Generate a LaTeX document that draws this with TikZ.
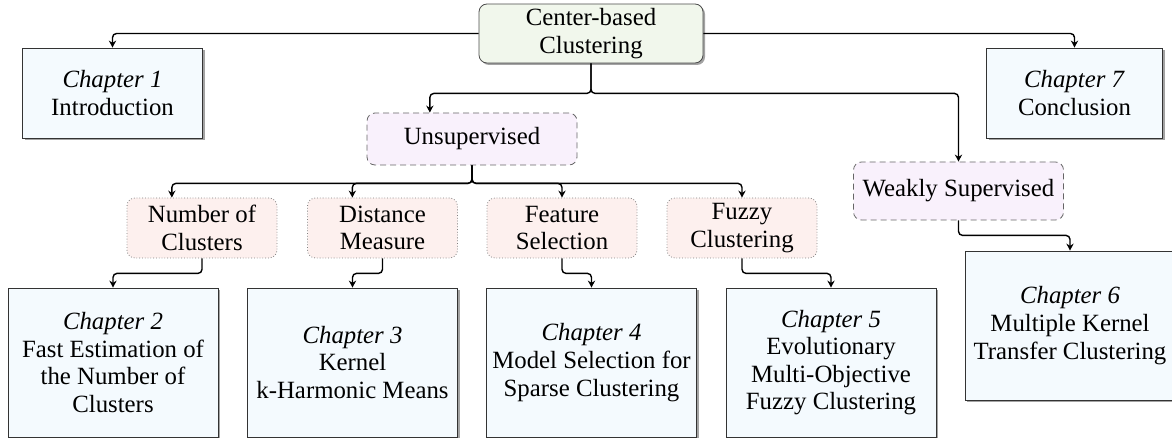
\documentclass[tikz,border=0pt]{standalone}
\usepackage{fontspec}
\setmainfont{Liberation Serif}
\usetikzlibrary{arrows.meta,calc,shadows}
\definecolor{rootfill}{HTML}{F1F7EC}
\definecolor{chapfill}{HTML}{F4FAFE}
\definecolor{groupfill}{HTML}{F9F1FC}
\definecolor{topicfill}{HTML}{FDF0EE}
\tikzset{
  shade/.style={drop shadow={shadow xshift=1pt, shadow yshift=-1pt, fill=black!45, opacity=0.8}},
  rootbox/.style={rectangle, rounded corners=4pt, draw=black!70, fill=rootfill, align=center,
                  minimum width=112pt, minimum height=29.5pt, inner sep=2pt, shade},
  chap/.style={rectangle, draw=black!80, fill=chapfill, align=center,
               minimum width=105pt, minimum height=74.5pt, inner sep=2pt, shade},
  group/.style={rectangle, rounded corners=4pt, draw=black!60, densely dashed, fill=groupfill,
                align=center, minimum width=105pt, minimum height=26pt, inner sep=2pt},
  topic/.style={rectangle, rounded corners=4pt, draw=black!50, densely dotted, fill=topicfill,
                align=center, minimum width=75pt, minimum height=30pt, inner sep=2pt},
  arr/.style={-{Stealth[length=3.5pt, width=3.6pt]}, line width=0.7pt, rounded corners=2pt},
}

\begin{document}
\begin{tikzpicture}[x=0.5pt, y=0.5pt, font=\fontsize{12.4pt}{13.8pt}\selectfont]
\useasboundingbox (0,0) rectangle (1172,-438);
% top level
\node[rootbox] (root) at (591,-33.5) {Center-based\\Clustering};
\node[chap, minimum width=90pt, minimum height=45pt] (ch1) at (112.5,-93) {\textit{Chapter 1}\\Introduction};
\node[chap, minimum width=88pt, minimum height=45pt] (ch7) at (1074.5,-93) {\textit{Chapter 7}\\Conclusion};
% learning settings
\node[group] (unsup) at (472,-139) {Unsupervised};
\node[group, minimum height=29pt] (weak) at (958.5,-191) {Weakly Supervised};
% topics
\node[topic] (num) at (202,-228) {Number of\\Clusters};
\node[topic] (dist) at (382.5,-228) {Distance\\Measure};
\node[topic] (feat) at (562,-228) {Feature\\Selection};
\node[topic] (fuzzy) at (742,-228) {Fuzzy\\Clustering};
% chapters
\node[chap] (ch2) at (113,-362.5) {\textit{Chapter 2}\\Fast Estimation of\\the Number of\\Clusters};
\node[chap] (ch3) at (352.5,-362.5) {\textit{Chapter 3}\\Kernel\\k-Harmonic Means};
\node[chap] (ch4) at (591.5,-362.5) {\textit{Chapter 4}\\Model Selection for\\Sparse Clustering};
\node[chap] (ch5) at (831,-362.5) {\textit{Chapter 5}\\Evolutionary\\Multi-Objective\\Fuzzy Clustering};
\node[chap] (ch6) at (1070,-325.5) {\textit{Chapter 6}\\Multiple Kernel\\Transfer Clustering};
% connectors
\draw[arr] (root.west) -| (ch1.north);
\draw[arr] (root.east) -| (ch7.north);
\draw[arr] (root.south) -- ++(0,-30) -| ($(unsup.north west)!0.3!(unsup.north east)$);
\draw[arr] (root.south) -- ++(0,-30) -| (weak.north);
\draw[arr] (unsup.south) -- ++(0,-18) -| ($(num.north west)!0.3!(num.north east)$);
\draw[arr] (unsup.south) -- ++(0,-18) -| ($(dist.north west)!0.3!(dist.north east)$);
\draw[arr] (unsup.south) -- ++(0,-18) -| (feat.north);
\draw[arr] (unsup.south) -- ++(0,-18) -| (fuzzy.north);
\draw[arr] (num.south) -- ++(0,-15) -| (ch2.north);
\draw[arr] (dist.south) -- ++(0,-15) -| (ch3.north);
\draw[arr] (feat.south) -- ++(0,-15) -| (ch4.north);
\draw[arr] (fuzzy.south) -- ++(0,-15) -| (ch5.north);
\draw[arr] (weak.south) -- ++(0,-15) -| (ch6.north);
\end{tikzpicture}
\end{document}
